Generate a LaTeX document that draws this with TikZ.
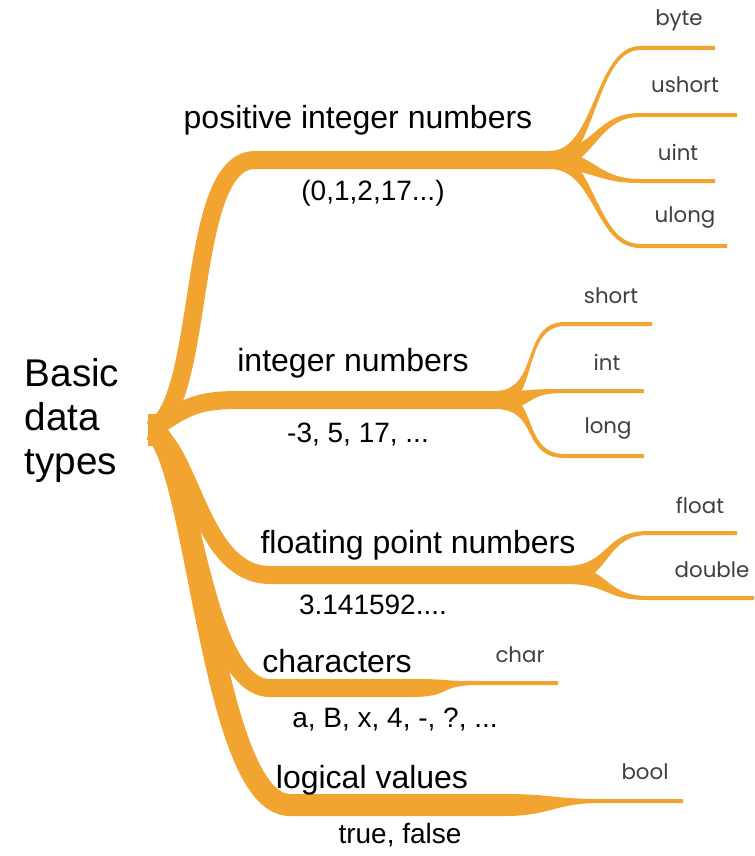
\documentclass[tikz,border=0pt]{standalone}
\usepackage{fontspec}
\setmainfont{Liberation Sans}
\newfontfamily\leaffont{Poppins}
\usepackage{tikz}
\usetikzlibrary{calc}
\definecolor{branch}{HTML}{F2A431}
\definecolor{leafgray}{HTML}{3F3F3F}

% tapered twig: [half width at fork]{fork}{bend}{end}
\newcommand\twig[4][9]{%
  \fill[twig] ($(#2)+(0,-#1)$) .. controls ($(#2)+(45,-#1)$) and ($(#3)+(-45,-2)$) .. ($(#3)+(0,-2)$)
    -- ($(#4)+(0,-2)$) -- ($(#4)+(0,2)$) -- ($(#3)+(0,2)$)
    .. controls ($(#3)+(-45,2)$) and ($(#2)+(45,#1)$) .. ($(#2)+(0,#1)$) -- cycle;}

\begin{document}
\begin{tikzpicture}[
  x=0.75pt, y=-0.75pt,
  limb/.style={draw=branch, line width=13.5pt},
  twig/.style={fill=branch},
  lbl/.style={font=\fontsize{24}{28}\selectfont},
  ex/.style={font=\fontsize{21}{25}\selectfont},
  leaf/.style={font=\leaffont\fontsize{16}{19}\selectfont, text=leafgray}
]
  \useasboundingbox (0,0) rectangle (754,856);

  \coordinate (root) at (152,430);
  \coordinate (pos-a) at (255,160);  \coordinate (pos-f) at (550,160);
  \coordinate (int-a) at (240,400);  \coordinate (int-f) at (495,400);
  \coordinate (flt-a) at (270,575);  \coordinate (flt-f) at (565,575);
  \coordinate (chr-a) at (270,688);  \coordinate (chr-f) at (410,688);
  \coordinate (log-a) at (290,805);  \coordinate (log-f) at (505,805);

  % main limbs
  \draw[limb] (root) .. controls +(55,-30) and +(-70,0) .. (pos-a) -- (pos-f);
  \draw[limb] (root) .. controls +(35,-25) and +(-40,0) .. (int-a) -- (int-f);
  \draw[limb] (root) .. controls +(40,20) and +(-70,0) .. (flt-a) -- (flt-f);
  \draw[limb] (root) .. controls +(40,20) and +(-70,0) .. (chr-a) -- (chr-f);
  \draw[limb, line width=16.5pt] (root) .. controls +(45,20) and +(-80,0) .. (log-a) -- (log-f);
  \fill[branch] (148,414) rectangle (160,446);

  % twigs
  \coordinate (byte-b) at (640,48);   \coordinate (byte-e) at (715,48);
  \coordinate (ushort-b) at (640,115); \coordinate (ushort-e) at (737,115);
  \coordinate (uint-b) at (640,181);  \coordinate (uint-e) at (715,181);
  \coordinate (ulong-b) at (640,246); \coordinate (ulong-e) at (727,246);
  \coordinate (short-b) at (565,324); \coordinate (short-e) at (652,324);
  \coordinate (intt-b) at (565,391);  \coordinate (intt-e) at (644,391);
  \coordinate (long-b) at (565,456);  \coordinate (long-e) at (644,456);
  \coordinate (float-b) at (648,533); \coordinate (float-e) at (737,533);
  \coordinate (double-b) at (648,598); \coordinate (double-e) at (754,598);
  \coordinate (char-b) at (480,683);  \coordinate (char-e) at (558,683);
  \coordinate (bool-b) at (600,801);  \coordinate (bool-e) at (683,801);

  \twig{pos-f}{byte-b}{byte-e}
  \twig{pos-f}{ushort-b}{ushort-e}
  \twig{pos-f}{uint-b}{uint-e}
  \twig{pos-f}{ulong-b}{ulong-e}
  \twig{int-f}{short-b}{short-e}
  \twig{int-f}{intt-b}{intt-e}
  \twig{int-f}{long-b}{long-e}
  \twig{flt-f}{float-b}{float-e}
  \twig{flt-f}{double-b}{double-e}
  \twig{chr-f}{char-b}{char-e}
  \twig[11]{log-f}{bool-b}{bool-e}

  % labels
  \node[font=\fontsize{29}{33}\selectfont, align=left, anchor=west] (title) at (20,420) {Basic\\data\\types};

  \node[lbl] (pos) at (358,120) {positive integer numbers};
  \node[ex] (pos-ex) at (373,193) {(0,1,2,17...)};
  \node[lbl] (int) at (353,363) {integer numbers};
  \node[ex] (int-ex) at (358,435) {-3, 5, 17, ...};
  \node[lbl] (flt) at (418,545) {floating point numbers};
  \node[ex] (flt-ex) at (373,605) {3.141592....};
  \node[lbl] (chr) at (337,661) {characters};
  \node[ex] (chr-ex) at (395,720) {a, B, x, 4, -, ?, ...};
  \node[lbl] (log) at (372,780) {logical values};
  \node[ex] (log-ex) at (400,835) {true, false};

  \node[leaf] (byte) at (679,20) {byte};
  \node[leaf] (ushort) at (685,85) {ushort};
  \node[leaf] (uint) at (678,152) {uint};
  \node[leaf] (ulong) at (685,217) {ulong};
  \node[leaf] (short) at (611,296) {short};
  \node[leaf] (intt) at (607,362) {int};
  \node[leaf] (long) at (608,428) {long};
  \node[leaf] (float) at (700,505) {float};
  \node[leaf] (double) at (712,570) {double};
  \node[leaf] (char) at (520,655) {char};
  \node[leaf] (bool) at (645,772) {bool};
\end{tikzpicture}
\end{document}
